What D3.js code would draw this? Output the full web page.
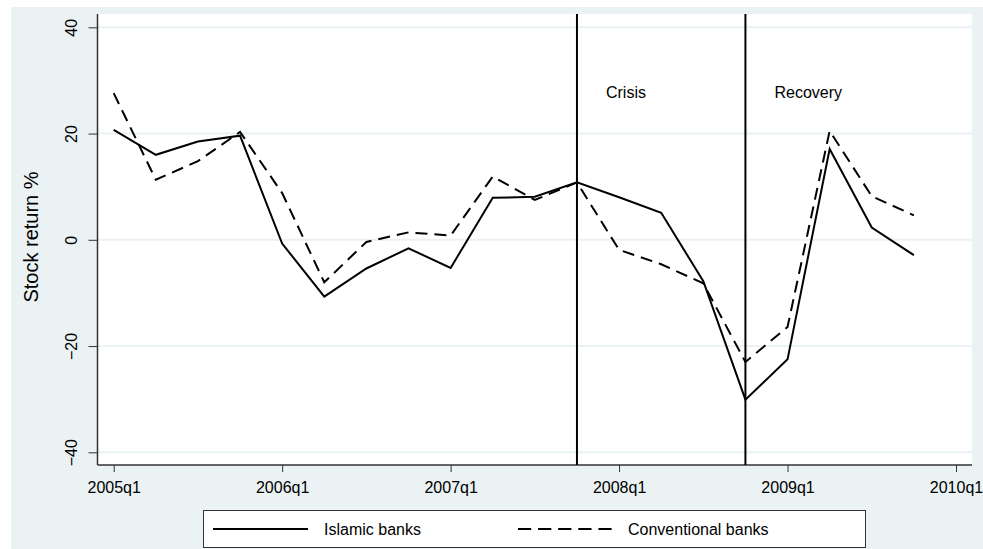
<!DOCTYPE html>
<html>
<head>
<meta charset="utf-8">
<script src="https://cdn.jsdelivr.net/npm/d3@7"></script>
<style>
  body { margin: 0; background: #fff; }
  svg { display: block; font-family: "Liberation Sans", Arial, sans-serif; }
</style>
</head>
<body>
<script>
const width = 983;
const height = 549;

// quarters 2005q1 .. 2009q4, as index from 2005q1
const quarters = d3.range(0, 20);
const islamic = [20.7, 16.0, 18.5, 19.6, -0.7, -10.7, -5.4, -1.6, -5.3, 7.9,
  8.1, 10.8, 8.0, 5.1, -7.8, -30.1, -22.5, 17.1, 2.3, -2.9];
const conventional = [27.6, 11.3, 14.8, 20.3, 8.8, -8.0, -0.4, 1.4, 0.8, 11.9,
  7.5, 10.8, -1.9, -4.6, -8.2, -23.0, -16.4, 20.5, 8.2, 4.6];
const yTicks = [-40, -20, 0, 20, 40];
const xTickIdx = [0, 4, 8, 12, 16, 20];
const xTickLabels = ["2005q1", "2006q1", "2007q1", "2008q1", "2009q1", "2010q1"];
const events = [{ idx: 11, label: "Crisis" }, { idx: 15, label: "Recovery" }];
const seriesNames = ["Islamic banks", "Conventional banks"];

const plot = { left: 97.5, right: 972, top: 14, bottom: 465 };
const bgColor = "#eaf2f3";

const xScale = d3.scaleLinear().domain([0, 20]).range([113.7, 956]);
const yScale = d3.scaleLinear().domain([-40, 40]).range([452.3, 27.3]);

const svg = d3.select("body").append("svg")
  .attr("width", width)
  .attr("height", height);

// graph region
svg.append("rect")
  .attr("x", 11).attr("y", 7)
  .attr("width", width - 11).attr("height", height - 7)
  .attr("fill", bgColor);

// plot region
svg.append("rect")
  .attr("x", plot.left).attr("y", plot.top)
  .attr("width", plot.right - plot.left).attr("height", plot.bottom - plot.top)
  .attr("fill", "#fff");

// gridlines
svg.append("g")
  .selectAll("line")
  .data(yTicks)
  .enter()
  .append("line")
  .attr("x1", plot.left).attr("x2", plot.right)
  .attr("y1", (d) => yScale(d)).attr("y2", (d) => yScale(d))
  .attr("stroke", bgColor)
  .attr("stroke-width", 2);

// axes
const yAxis = d3.axisLeft(yScale).tickValues(yTicks).tickSize(9).tickSizeOuter(0);
const yG = svg.append("g")
  .attr("transform", `translate(${plot.left}, 0)`)
  .call(yAxis);
yG.select(".domain").remove();
yG.selectAll(".tick line").attr("stroke", "#333").attr("stroke-width", 1);
yG.selectAll(".tick text")
  .attr("font-size", 16)
  .attr("font-family", "Liberation Sans, Arial, sans-serif")
  .attr("fill", "#000")
  .attr("text-anchor", "middle")
  .attr("dy", 0)
  .attr("transform", "rotate(-90)")
  .attr("x", 0)
  .attr("y", -21);

const xAxis = d3.axisBottom(xScale).tickValues(xTickIdx)
  .tickFormat((d, i) => xTickLabels[i]).tickSize(7).tickPadding(10).tickSizeOuter(0);
const xG = svg.append("g")
  .attr("transform", `translate(0, ${plot.bottom})`)
  .call(xAxis);
xG.select(".domain").remove();
xG.selectAll(".tick line").attr("stroke", "#333").attr("stroke-width", 1);
xG.selectAll(".tick text")
  .attr("font-size", 16)
  .attr("font-family", "Liberation Sans, Arial, sans-serif")
  .attr("fill", "#000");

svg.append("line")
  .attr("x1", plot.left).attr("x2", plot.left)
  .attr("y1", plot.top).attr("y2", plot.bottom)
  .attr("stroke", "#333").attr("stroke-width", 1.5);
svg.append("line")
  .attr("x1", plot.left).attr("x2", plot.right)
  .attr("y1", plot.bottom).attr("y2", plot.bottom)
  .attr("stroke", "#333").attr("stroke-width", 1.5);

// y title
svg.append("text")
  .text("Stock return %")
  .attr("transform", "translate(38, 237) rotate(-90)")
  .attr("text-anchor", "middle")
  .attr("font-size", 20)
  .attr("fill", "#000");

// event lines
svg.append("g")
  .selectAll("line")
  .data(events)
  .enter()
  .append("line")
  .attr("x1", (d) => xScale(d.idx)).attr("x2", (d) => xScale(d.idx))
  .attr("y1", plot.top).attr("y2", plot.bottom)
  .attr("stroke", "#000")
  .attr("stroke-width", 2);

svg.append("g")
  .selectAll("text")
  .data(events)
  .enter()
  .append("text")
  .text((d) => d.label)
  .attr("x", (d) => xScale(d.idx) + 29)
  .attr("y", 98)
  .attr("font-size", 16)
  .attr("fill", "#000");

// series
const line = d3.line()
  .x((d) => xScale(d[0]))
  .y((d) => yScale(d[1]));

svg.append("path")
  .datum(quarters.map((q, i) => [q, conventional[i]]))
  .attr("d", line)
  .attr("fill", "none")
  .attr("stroke", "#000")
  .attr("stroke-width", 2)
  .attr("stroke-dasharray", "12,7");

svg.append("path")
  .datum(quarters.map((q, i) => [q, islamic[i]]))
  .attr("d", line)
  .attr("fill", "none")
  .attr("stroke", "#000")
  .attr("stroke-width", 2);

// legend
const legend = svg.append("g");
legend.append("rect")
  .attr("x", 203.5).attr("y", 510.5)
  .attr("width", 662).attr("height", 37)
  .attr("fill", "#fff")
  .attr("stroke", "#333")
  .attr("stroke-width", 1);

legend.append("line")
  .attr("x1", 213).attr("x2", 308)
  .attr("y1", 529).attr("y2", 529)
  .attr("stroke", "#000").attr("stroke-width", 2);
legend.append("text")
  .text(seriesNames[0])
  .attr("x", 324).attr("y", 535)
  .attr("font-size", 16).attr("fill", "#000");

legend.append("line")
  .attr("x1", 518).attr("x2", 612)
  .attr("y1", 529).attr("y2", 529)
  .attr("stroke", "#000").attr("stroke-width", 2)
  .attr("stroke-dasharray", "13.2,6.9");
legend.append("text")
  .text(seriesNames[1])
  .attr("x", 628).attr("y", 535)
  .attr("font-size", 16).attr("fill", "#000");
</script>
</body>
</html>
